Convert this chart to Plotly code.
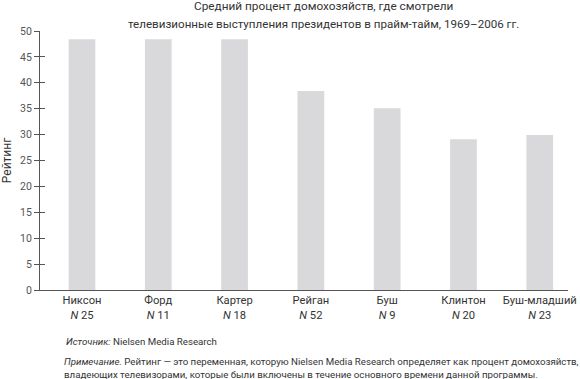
import plotly.graph_objects as go

presidents = ["Никсон", "Форд", "Картер", "Рейган", "Буш", "Клинтон", "Буш-младший"]
n_speeches = [25, 11, 18, 52, 9, 20, 23]
ratings = [48.4, 48.4, 48.4, 38.4, 35.1, 29.1, 29.9]
y_ticks = [0, 5, 10, 15, 20, 25, 30, 35, 40, 45, 50]
title_lines = ["Средний процент домохозяйств, где смотрели",
               "телевизионные выступления президентов в прайм-тайм, 1969–2006 гг."]

tick_text = [f"{p}<br><i>N</i> {n}" for p, n in zip(presidents, n_speeches)]

FONT = "Roboto"
TXT = "#333333"
AX = "#555555"

fig = go.Figure()
fig.add_trace(go.Bar(
    x=list(range(len(presidents))), y=ratings,
    width=0.35, marker=dict(color="#d9d9db", line=dict(width=0)),
    hoverinfo="skip", showlegend=False,
))
# invisible trace on overlay axis for inside half of the crossing ticks
fig.add_trace(go.Scatter(x=[0], y=[0], yaxis="y2", mode="markers",
                         marker=dict(opacity=0), showlegend=False, hoverinfo="skip"))

fig.update_layout(
    width=580, height=379,
    margin=dict(l=40, r=4, t=31, b=89),
    paper_bgcolor="white", plot_bgcolor="white",
    font=dict(family=FONT, size=11, color=TXT),
    xaxis=dict(
        range=[-0.55, 6.37], tickmode="array",
        tickvals=list(range(len(presidents))), ticktext=tick_text,
        showline=True, linecolor=AX, linewidth=1, ticks="",
        showgrid=False, zeroline=False, ticklabeloverflow="allow",
        tickfont=dict(family=FONT, size=11.2, color=TXT),
    ),
    yaxis=dict(
        range=[0, 50], tickmode="array", tickvals=y_ticks,
        showline=True, linecolor=AX, linewidth=1,
        ticks="outside", ticklen=5, tickcolor=AX, tickwidth=1,
        showgrid=False, zeroline=False,
        tickfont=dict(family=FONT, size=10.5, color="#555555"),
        title=dict(text="Рейтинг", font=dict(family=FONT, size=12, color=TXT), standoff=6),
    ),
    yaxis2=dict(
        range=[0, 50], overlaying="y", side="left", tickmode="array", tickvals=y_ticks,
        ticks="inside", ticklen=5, tickcolor=AX, tickwidth=1,
        showticklabels=False, showgrid=False, zeroline=False, showline=False,
    ),
    annotations=[
        dict(text=title_lines[0], xref="paper", yref="paper",
             x=0.537, y=1.096, xanchor="center", yanchor="middle", showarrow=False,
             font=dict(family=FONT, size=11.8, color=TXT)),
        dict(text=title_lines[1], xref="paper", yref="paper",
             x=0.537, y=1.028, xanchor="center", yanchor="middle", showarrow=False,
             font=dict(family=FONT, size=11.6, color=TXT)),
        dict(text="<i>Источник:</i> Nielsen Media Research", xref="paper", yref="paper",
             x=0.045, y=-0.2, xanchor="left", yanchor="middle", showarrow=False,
             font=dict(family=FONT, size=9.7, color=TXT)),
        dict(text="<i>Примечание.</i> Рейтинг — это переменная, которую Nielsen Media Research определяет как процент домохозяйств,<br>владеющих телевизорами, которые были включены в течение основного времени данной программы.",
             xref="paper", yref="paper", x=0.041, y=-0.3, xanchor="left", yanchor="middle",
             align="left", showarrow=False, font=dict(family=FONT, size=9.7, color=TXT)),
    ],
)

fig.write_html("out.html", config={"displayModeBar": False},
               post_script="document.body.style.margin='0';document.body.style.overflow='hidden';")
